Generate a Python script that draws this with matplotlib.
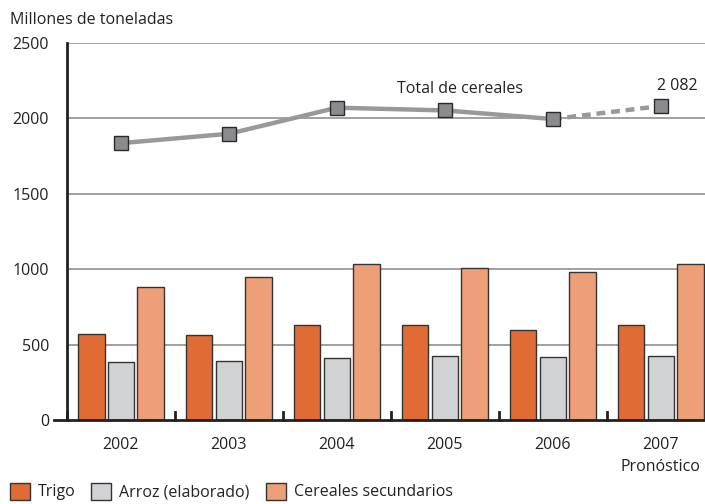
import matplotlib
matplotlib.use("Agg")
import matplotlib.pyplot as plt
from matplotlib.patches import Rectangle
import numpy as np

plt.rcParams['font.family'] = ['Open Sans', 'DejaVu Sans']

years = ["2002", "2003", "2004", "2005", "2006", "2007"]
trigo = [573, 562, 631, 627, 600, 627]
arroz = [382, 393, 409, 422, 421, 423]
secundarios = [885, 949, 1037, 1007, 982, 1037]
total = [1836, 1898, 2071, 2053, 1996, 2082]
series_names = ["Trigo", "Arroz (elaborado)", "Cereales secundarios"]
colors = ["#e06b35", "#d1d2d4", "#eda077"]

FS = 11.5
TC = "#222222"

fig = plt.figure(figsize=(7.05, 5.04), dpi=100)
ax = fig.add_axes([67/705, 1-420/504, 1-67/705, (420-43)/504])
ax.set_xlim(-0.5, 5.41)
ax.set_ylim(0, 2500)

x = np.arange(len(years))
w = 0.245
off = 0.275
for vals, c, dx in zip([trigo, arroz, secundarios], colors, [-off, 0, off]):
    ax.bar(x + dx, vals, width=w, color=c, edgecolor="#333333", linewidth=1.0, zorder=3)

for y in [500, 1000, 1500, 2000, 2500]:
    ax.axhline(y, color="#999999", linewidth=1.3, zorder=1)

# total line
ax.plot(x[:5], total[:5], color="#999999", linewidth=3.2, zorder=4, solid_capstyle="butt")
ax.plot(x[4:], total[4:], color="#999999", linewidth=3.2, zorder=4, linestyle=(0, (2.0, 1.3)))
ax.plot(x, total, linestyle="none", marker="s", markersize=10.5, markerfacecolor="#8b8b8f",
        markeredgecolor="#2a2a2a", markeredgewidth=1.0, zorder=5)

ax.text(3.14, 2195, "Total de cereales", fontsize=FS, color=TC, ha="center", va="center")
ax.text(5.15, 2214, "2 082", fontsize=FS, color=TC, ha="center", va="center")

for s in ["top", "right", "bottom"]:
    ax.spines[s].set_visible(False)
ax.spines["left"].set_linewidth(2.0)
ax.spines["left"].set_color("#231f20")

# x axis line extending slightly left
ax.plot([-0.62, 5.41], [0, 0], color="#231f20", linewidth=2.0, clip_on=False, zorder=6)
for b in np.arange(0, 6) - 0.5:
    ax.plot([b, b], [0, 55], color="#231f20", linewidth=2.0, clip_on=False, zorder=6)

ax.set_yticks([0, 500, 1000, 1500, 2000, 2500])
ax.set_yticklabels(["0", "500", "1000", "1500", "2000", "2500"], fontsize=FS, color=TC)
ax.tick_params(axis="y", length=0, pad=13)
ax.set_xticks(x)
ax.set_xticklabels(years, fontsize=FS, color=TC)
ax.tick_params(axis="x", length=0, pad=12)

ax.text(5, -310, "Pronóstico", fontsize=FS, color=TC, ha="center", va="center")
fig.text(10/705, 1-20/504, "Millones de toneladas", fontsize=FS, color=TC, ha="left", va="center")

# legend
handles = [Rectangle((0, 0), 1, 1, facecolor=c, edgecolor="#333333", linewidth=1.0) for c in colors]
fig.legend(handles, series_names, loc="lower left", bbox_to_anchor=(0.0, -0.012), ncol=3,
           frameon=False, fontsize=FS, handlelength=1.25, handleheight=1.25,
           handletextpad=0.5, columnspacing=1.0, borderaxespad=0.2, labelcolor=TC)

fig.savefig("out.png", dpi=100)
